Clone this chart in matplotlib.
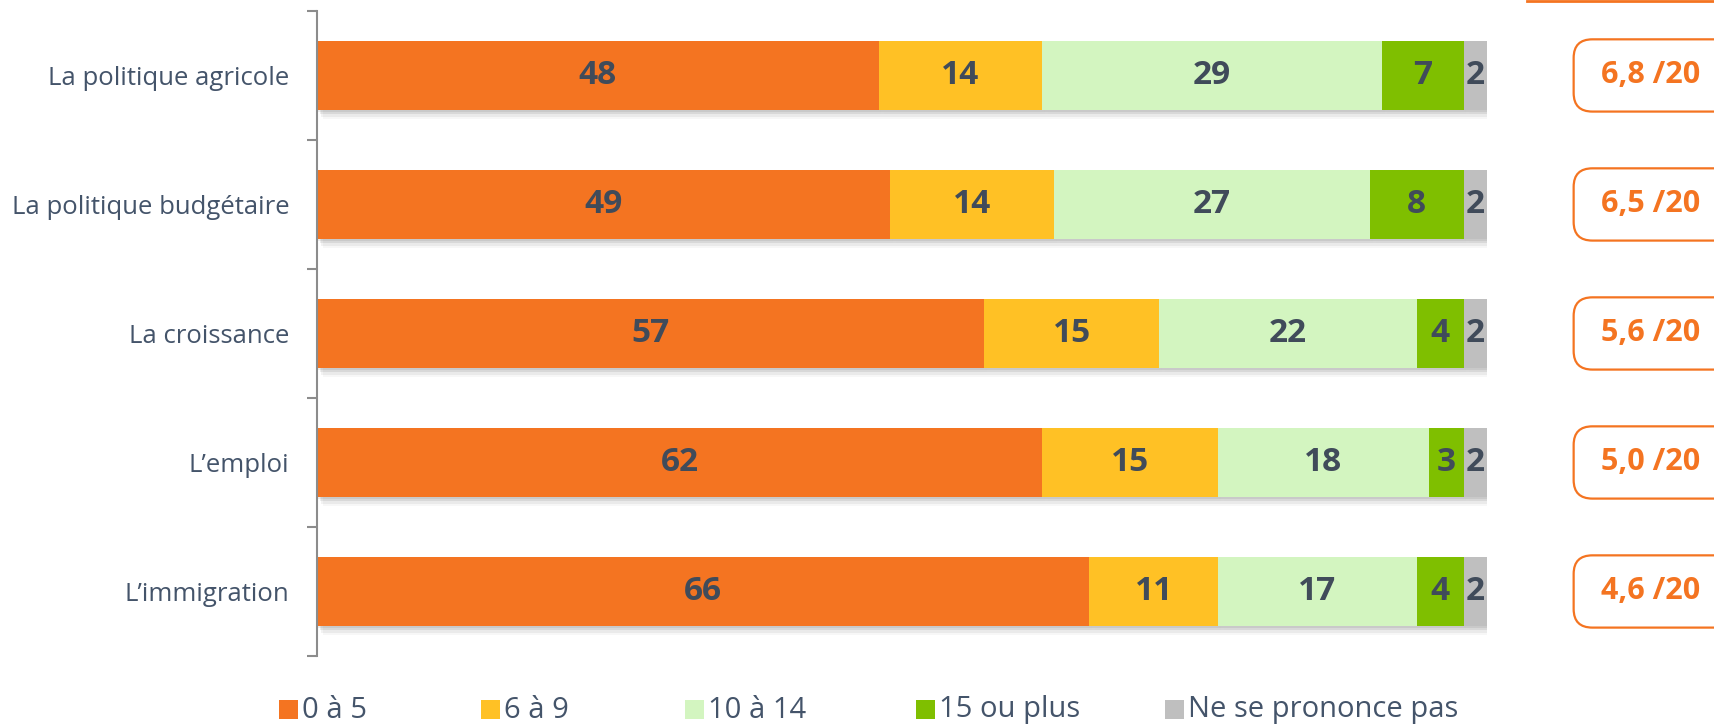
import matplotlib
matplotlib.use('Agg')
import matplotlib.pyplot as plt
import matplotlib.patheffects as pe
from matplotlib.patches import FancyBboxPatch, Rectangle
import numpy as np

plt.rcParams['font.family'] = ['Open Sans', 'DejaVu Sans']

# data
categories = ['La politique agricole', 'La politique budgétaire', 'La croissance',
              "L\u2019emploi", "L\u2019immigration"]
series = ['0 à 5', '6 à 9', '10 à 14', '15 ou plus', 'Ne se prononce pas']
v_0_5 = [48, 49, 57, 62, 66]
v_6_9 = [14, 14, 15, 15, 11]
v_10_14 = [29, 27, 22, 18, 17]
v_15 = [7, 8, 4, 3, 4]
v_nsp = [2, 2, 2, 2, 2]
scores = ['6,8 /20', '6,5 /20', '5,6 /20', '5,0 /20', '4,6 /20']

colors = ['#F47421', '#FFC125', '#D3F5C0', '#7FBF00', '#BFBFBF']
txt_col = '#404B5A'
lab_col = '#44546A'
orange = '#F47421'

fig = plt.figure(figsize=(17.14, 7.25), dpi=100)
ax = fig.add_axes([0.185, 0.0952, 0.6826, 0.8897])

y = np.arange(len(categories))
left = np.zeros(len(categories))
# soft drop shadow under the bars
shadow = [pe.SimplePatchShadow(offset=(1, -1.5), shadow_rgbFace='#000000', alpha=0.07),
          pe.SimplePatchShadow(offset=(2, -3), shadow_rgbFace='#000000', alpha=0.07),
          pe.SimplePatchShadow(offset=(3, -4.5), shadow_rgbFace='#000000', alpha=0.05),
          pe.SimplePatchShadow(offset=(4, -6), shadow_rgbFace='#000000', alpha=0.03),
          pe.Normal()]
for vals, col in zip([v_0_5, v_6_9, v_10_14, v_15, v_nsp], colors):
    bars = ax.barh(y, vals, left=left, height=0.54, color=col, edgecolor='none')
    for b in bars:
        b.set_path_effects(shadow)
    for yi, l, v in zip(y, left, vals):
        ax.text(l + v / 2, yi, str(v), ha='center', va='center', fontsize=24,
                fontweight='bold', color=txt_col)
    left = left + np.array(vals)

ax.set_xlim(0, 100)
ax.set_ylim(len(categories) - 0.5, -0.5)
ax.set_yticks(y)
ax.set_yticklabels(categories, fontsize=18.5, color=lab_col)
ax.set_yticks(np.arange(-0.5, len(categories)), minor=True)
ax.tick_params(axis='y', which='major', length=0, pad=20)
ax.tick_params(axis='y', which='minor', length=7, width=1.5, color='#8C8C8C')
ax.set_xticks([])
for s in ['top', 'right', 'bottom']:
    ax.spines[s].set_visible(False)
ax.spines['left'].set_color('#8C8C8C')
ax.spines['left'].set_linewidth(1.5)

# score boxes
for yi, sc in zip(y, scores):
    ax.add_patch(FancyBboxPatch((107.4, yi - 0.28), 20, 0.56,
                                boxstyle='round,pad=0,rounding_size=1.6',
                                mutation_aspect=0.09,
                                facecolor='white', edgecolor=orange, linewidth=1.6,
                                clip_on=False))
    ax.text(114.0, yi, sc, ha='center', va='center', fontsize=22,
            fontweight='bold', color=orange, clip_on=False)

# top orange line (edge of a box above)
fig.add_artist(plt.Line2D([1527 / 1714, 1.0], [0.998, 0.998], color=orange,
                          linewidth=2, transform=fig.transFigure))

# legend
leg_x = [279, 481, 685, 916, 1165]
for lx, name, col in zip(leg_x, series, colors):
    fig.add_artist(Rectangle((lx / 1714, 1 - 719 / 725), 19 / 1714, 19 / 725,
                             facecolor=col, edgecolor='none', transform=fig.transFigure))
    fig.text((lx + 23) / 1714, 1 - 710 / 725, name, ha='left', va='center',
             fontsize=21, color=lab_col)

fig.savefig('out.png', dpi=100)
